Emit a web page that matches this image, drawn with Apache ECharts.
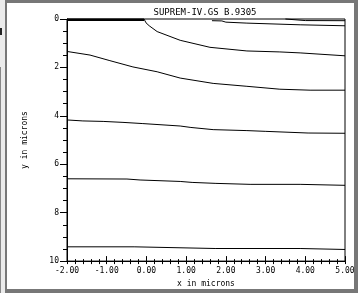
<!DOCTYPE html>
<html>
<head>
<meta charset="utf-8">
<script src="https://cdn.jsdelivr.net/npm/echarts@6/dist/echarts.min.js"></script>
<style>
html,body{margin:0;padding:0;background:#ebebeb;}
#c{width:358px;height:293px;}
</style>
</head>
<body>
<div id="c"></div>
<script>
// ---- data (microns) ----
const titleText = 'SUPREM-IV.GS B.9305';
const xName = 'x in microns';
const yName = 'y in microns';
const xTickLabels = ['-2.00','-1.00','0.00','1.00','2.00','3.00','4.00','5.00'];
const yTickLabels = ['0','2','4','6','8','10'];

const maskX = [-2.0, -0.06];
const maskY = [0.03, 0.03];

const c1X = [-0.06, -0.01, 0.07, 0.27, 0.85, 1.60, 2.53, 3.36, 3.87, 5.00];
const c1Y = [0.00, 0.16, 0.28, 0.52, 0.88, 1.17, 1.32, 1.36, 1.40, 1.52];

const c2X = [1.65, 1.90, 2.00, 2.53, 3.87, 3.92, 5.00];
const c2Y = [0.07, 0.08, 0.13, 0.17, 0.24, 0.28, 0.28];

const c3X = [3.50, 4.00, 5.00];
const c3Y = [0.00, 0.065, 0.07];

const c4X = [-2.00, -1.42, -0.92, -0.34, 0.27, 0.85, 1.68, 2.53, 3.36, 4.12, 5.00];
const c4Y = [1.34, 1.49, 1.72, 1.98, 2.18, 2.44, 2.66, 2.78, 2.90, 2.94, 2.94];

const c5X = [-2.00, -1.60, -1.09, -0.59, -0.09, 0.85, 1.12, 1.68, 2.53, 2.99, 4.07, 5.00];
const c5Y = [4.17, 4.21, 4.23, 4.27, 4.32, 4.42, 4.48, 4.57, 4.61, 4.64, 4.71, 4.72];

const c6X = [-2.00, -0.49, -0.16, 0.85, 1.15, 1.75, 2.61, 3.87, 3.92, 5.00];
const c6Y = [6.60, 6.61, 6.65, 6.71, 6.75, 6.79, 6.83, 6.83, 6.87, 6.87];

const c7X = [-2.00, -0.31, -0.29, 1.73, 3.87, 3.92, 5.00];
const c7Y = [9.41, 9.41, 9.45, 9.48, 9.48, 9.52, 9.52];

function zip(xs, ys){ return xs.map((x,i)=>[x, ys[i]]); }

const chart = echarts.init(document.getElementById('c'), null, {renderer:'canvas'});
const FONT = 'DejaVu Sans Mono';

function contour(xs, ys, w){
  return {
    type:'line', data: zip(xs, ys), symbol:'none', smooth:false,
    xAxisIndex:0, yAxisIndex:0, clip:false,
    lineStyle:{color:'#000', width:w||1}, silent:true
  };
}

chart.setOption({
  animation:false,
  backgroundColor:'transparent',
  graphic:[
    {type:'rect', z:-10, shape:{x:5,y:0,width:353,height:293}, style:{fill:'#777777'}, silent:true},
    {type:'rect', z:-9, shape:{x:7,y:3,width:347,height:286}, style:{fill:'#ffffff'}, silent:true},
    {type:'rect', z:-9, shape:{x:0,y:28,width:2,height:7}, style:{fill:'#222222'}, silent:true},
    {type:'rect', z:-9, shape:{x:0,y:67,width:1,height:226}, style:{fill:'#888888'}, silent:true},
    {type:'text', z:5, x:205, y:13, style:{text:titleText, fill:'#000', font:'9px "'+FONT+'"', align:'center', verticalAlign:'middle'}}
  ],
  grid:{left:67, right:13, top:19, bottom:26, show:true, borderColor:'#000', borderWidth:1, backgroundColor:'transparent'},
  xAxis:[
    {
      type:'value', position:'bottom', offset:0, min:-2, max:5, interval:1,
      name:xName, nameLocation:'middle', nameGap:16,
      nameTextStyle:{fontFamily:FONT, fontSize:8, color:'#000'},
      axisLine:{show:true, onZero:false, lineStyle:{color:'#000', width:1}},
      axisTick:{show:true, inside:false, length:3, lineStyle:{color:'#000'}},
      minorTick:{show:true, splitNumber:5, length:3, lineStyle:{color:'#000'}},
      axisLabel:{show:true, margin:6, fontFamily:FONT, fontSize:8, color:'#000',
        formatter:function(v){ return xTickLabels[Math.round(v+2)]; }},
      splitLine:{show:false}, minorSplitLine:{show:false}
    },
    {
      type:'value', position:'bottom', offset:0, min:-2, max:5, interval:1,
      axisLine:{show:false, onZero:false},
      axisTick:{show:true, inside:true, length:5, lineStyle:{color:'#000'}},
      minorTick:{show:true, splitNumber:5, length:2, lineStyle:{color:'#000'}},
      axisLabel:{show:false},
      splitLine:{show:false}, minorSplitLine:{show:false}
    }
  ],
  yAxis:[{
    type:'value', position:'left', inverse:true, min:0, max:10, interval:2,
    name:yName, nameLocation:'middle', nameGap:38, nameRotate:90,
    nameTextStyle:{fontFamily:FONT, fontSize:8, color:'#000'},
    axisLine:{show:true, onZero:false, lineStyle:{color:'#000', width:1}},
    axisTick:{show:true, inside:false, length:7, lineStyle:{color:'#000'}},
    minorTick:{show:true, splitNumber:4, length:4, lineStyle:{color:'#000'}},
    axisLabel:{show:true, margin:8, fontFamily:FONT, fontSize:8, color:'#000',
      formatter:function(v){ return yTickLabels[Math.round(v/2)]; }},
    splitLine:{show:false}, minorSplitLine:{show:false}
  }],
  series:[
    contour(maskX, maskY, 2.5),
    contour(c1X, c1Y),
    contour(c2X, c2Y),
    contour(c3X, c3Y),
    contour(c4X, c4Y),
    contour(c5X, c5Y),
    contour(c6X, c6Y),
    contour(c7X, c7Y)
  ]
});
</script>
</body>
</html>
